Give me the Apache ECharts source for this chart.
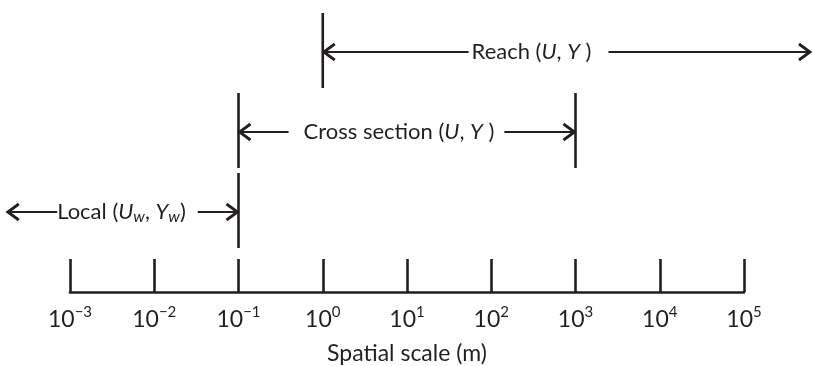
<!DOCTYPE html>
<html>
<head>
<meta charset="utf-8">
<script src="https://cdn.jsdelivr.net/npm/echarts@6/dist/echarts.min.js"></script>
<style>html,body{margin:0;padding:0;background:#fff}#c{width:813px;height:366px}</style>
</head>
<body>
<div id="c"></div>
<script>
// Axis: log10 of spatial scale (m)
const tickExponents = [-3, -2, -1, 0, 1, 2, 3, 4, 5];
const axisTitle = 'Spatial scale (m)';

// Scale ranges (log10 m); open ends run past the axis with no boundary bar
const rangeLabels = ['Local ({i|U}{sub|w}, {i|Y}{sub|w})', 'Cross section ({i|U}, {i|Y} )', 'Reach ({i|U}, {i|Y} )'];
const rangeStart = [-3.75, -1, 0];
const rangeEnd = [-1, 3, 5.795];
const startBar = [0, 1, 1];
const endBar = [1, 1, 0];
const rangeRow = [1, 2, 3];
const labelCenter = [-2.318, 0.875, 2.561];

const INK = '#231f20';
const FONT = 'Lato, "Liberation Sans", sans-serif';
const labelPad = [[0, 12, 0, 0], [0, 10, 0, 15], [0, 17, 0, 3]];

const chart = echarts.init(document.getElementById('c'));

const data = rangeStart.map((s, i) => [s, rangeEnd[i], rangeRow[i], labelCenter[i], startBar[i], endBar[i], i]);

function renderItem(params, api) {
  const s = api.value(0), e = api.value(1), row = api.value(2), lc = api.value(3);
  const sb = api.value(4), eb = api.value(5), idx = api.value(6);
  const p0 = api.coord([s, row]);
  const p1 = api.coord([e, row]);
  const pl = api.coord([lc, row]);
  const y = p0[1];
  const up = 39, down = 36;
  const hl = 12, hw = 8;
  const children = [];
  children.push({type: 'line', shape: {x1: p0[0], y1: y, x2: p1[0], y2: y}, style: {stroke: INK, lineWidth: 2.2}});
  children.push({type: 'polyline', shape: {points: [[p0[0] + hl, y - hw], [p0[0] + 1, y], [p0[0] + hl, y + hw]]}, style: {stroke: INK, lineWidth: 2.8, fill: null}});
  children.push({type: 'polyline', shape: {points: [[p1[0] - hl, y - hw], [p1[0] - 1, y], [p1[0] - hl, y + hw]]}, style: {stroke: INK, lineWidth: 2.8, fill: null}});
  if (sb) children.push({type: 'line', shape: {x1: p0[0], y1: y - up, x2: p0[0], y2: y + down}, style: {stroke: INK, lineWidth: 2.6}});
  if (eb) children.push({type: 'line', shape: {x1: p1[0], y1: y - up, x2: p1[0], y2: y + down}, style: {stroke: INK, lineWidth: 2.6}});
  children.push({
    type: 'text', x: pl[0], y: y, z2: 10,
    style: {
      text: rangeLabels[idx], fill: INK, font: '22px ' + FONT,
      align: 'center', verticalAlign: 'middle',
      backgroundColor: '#fff', padding: labelPad[idx],
      rich: {
        i: {fontStyle: 'italic', fontSize: 22, fontFamily: FONT, fill: INK},
        sub: {fontStyle: 'italic', fontSize: 16, fontFamily: FONT, fill: INK, verticalAlign: 'bottom', padding: [9, 0, 0, 0]}
      }
    }
  });
  return {type: 'group', children: children};
}

chart.setOption({
  animation: false,
  grid: {left: 70, right: 69, top: 0, bottom: 74, containLabel: false, outerBoundsMode: 'none'},
  xAxis: {
    type: 'value', min: -3, max: 5, interval: 1,
    splitLine: {show: false},
    axisLine: {show: true, lineStyle: {color: INK, width: 2.6}},
    axisTick: {show: true, inside: true, length: 33, lineStyle: {color: INK, width: 2.6}},
    axisLabel: {
      margin: 13,
      formatter: v => '{b|10}{s|' + (v < 0 ? '\u2212' + (-v) : v) + '}',
      rich: {
        b: {fontSize: 23, fontFamily: FONT, color: INK, lineHeight: 26, verticalAlign: 'bottom'},
        s: {fontSize: 15, fontFamily: FONT, color: INK, lineHeight: 15, verticalAlign: 'top'}
      }
    },
    name: axisTitle, nameLocation: 'middle', nameGap: 50,
    nameTextStyle: {fontSize: 23, fontFamily: FONT, color: INK}
  },
  yAxis: {type: 'value', min: 0, max: 3.65, show: false},
  series: [{type: 'custom', renderItem: renderItem, data: data, clip: false}]
});
</script>
</body>
</html>
